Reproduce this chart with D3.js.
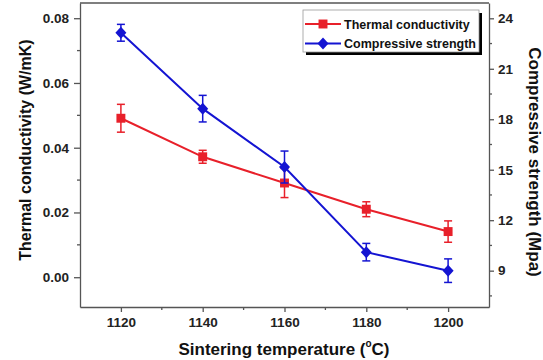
<!DOCTYPE html>
<html>
<head>
<meta charset="UTF-8">
<style>
  body, html { margin: 0; padding: 0; background: #fff; overflow: hidden; }
  svg { font-family: "Liberation Sans", Arial, sans-serif; }
  .tick text { font-size: 13.5px; font-weight: bold; fill: #222; }
  .axis path, .axis line { stroke: #555; stroke-width: 1.3px; }
</style>
</head>
<body>
<svg width="543" height="360"></svg>
<script src="https://d3js.org/d3.v7.min.js"></script>
<script>
const temps = [1120, 1140, 1160, 1180, 1200];
const conductivity = [0.0491, 0.0372, 0.0291, 0.0210, 0.0141];
const conductivityErr = [0.0043, 0.0020, 0.0045, 0.0023, 0.0033];
const strength = [23.14, 18.63, 15.16, 10.10, 9.00];
const strengthErr = [0.50, 0.79, 0.95, 0.52, 0.70];
const leftTicks = [0, 0.02, 0.04, 0.06, 0.08];
const rightTicks = [9, 12, 15, 18, 21, 24];
const xTicks = [1120, 1140, 1160, 1180, 1200];

const red = "#e8202a", blue = "#1414d2";
const m = {left: 80, top: 3, right: 489, bottom: 307};

const svg = d3.select("svg");
const x = d3.scaleLinear().domain([1110, 1210]).range([m.left, m.right]);
const yL = d3.scaleLinear().domain([-0.0092, 0.0847]).range([m.bottom, m.top]);
const yR = d3.scaleLinear().domain([6.84, 24.91]).range([m.bottom, m.top]);

// frame top
svg.append("line").attr("x1", m.left).attr("x2", m.right).attr("y1", m.top).attr("y2", m.top)
  .attr("stroke", "#555").attr("stroke-width", 1.3);

// minor ticks
function minor(axisG, vals, fn) {
  axisG.selectAll(".minor").data(vals).join("line").attr("class", "minor")
    .each(fn).attr("stroke", "#555").attr("stroke-width", 1.3);
}

const gx = svg.append("g").attr("class", "axis").attr("transform", `translate(0,${m.bottom})`)
  .call(d3.axisBottom(x).tickValues(xTicks).tickFormat(d3.format("d")).tickSize(5).tickPadding(5).tickSizeOuter(0));
minor(gx, [1130, 1150, 1170, 1190], function(d) {
  d3.select(this).attr("x1", x(d)).attr("x2", x(d)).attr("y1", 0).attr("y2", 3);
});

const gl = svg.append("g").attr("class", "axis").attr("transform", `translate(${m.left},0)`)
  .call(d3.axisLeft(yL).tickValues(leftTicks).tickFormat(d3.format(".2f")).tickSize(6).tickPadding(5).tickSizeOuter(0));
minor(gl, [0.01, 0.03, 0.05, 0.07], function(d) {
  d3.select(this).attr("x1", 0).attr("x2", -3).attr("y1", yL(d)).attr("y2", yL(d));
});

const gr = svg.append("g").attr("class", "axis").attr("transform", `translate(${m.right},0)`)
  .call(d3.axisRight(yR).tickValues(rightTicks).tickSize(5).tickPadding(4).tickSizeOuter(0));
minor(gr, [7.5, 10.5, 13.5, 16.5, 19.5, 22.5], function(d) {
  d3.select(this).attr("x1", 0).attr("x2", 3).attr("y1", yR(d)).attr("y2", yR(d));
});

// series
function series(vals, errs, scale, color, shape) {
  const pts = temps.map((t, i) => ({t, v: vals[i], e: errs[i]}));
  const g = svg.append("g");
  g.append("path").datum(pts)
    .attr("d", d3.line().x(d => x(d.t)).y(d => scale(d.v)))
    .attr("fill", "none").attr("stroke", color).attr("stroke-width", 2);
  const eb = g.selectAll(".eb").data(pts).join("g").attr("stroke", color).attr("stroke-width", 1.5);
  eb.append("line").attr("x1", d => x(d.t)).attr("x2", d => x(d.t))
    .attr("y1", d => scale(d.v - d.e)).attr("y2", d => scale(d.v + d.e));
  eb.append("line").attr("x1", d => x(d.t) - 4).attr("x2", d => x(d.t) + 4)
    .attr("y1", d => scale(d.v + d.e)).attr("y2", d => scale(d.v + d.e));
  eb.append("line").attr("x1", d => x(d.t) - 4).attr("x2", d => x(d.t) + 4)
    .attr("y1", d => scale(d.v - d.e)).attr("y2", d => scale(d.v - d.e));
  g.selectAll(".mk").data(pts).join("path")
    .attr("transform", d => `translate(${x(d.t)},${scale(d.v)})`)
    .attr("d", shape).attr("fill", color);
}
const sq = d3.symbol(d3.symbolSquare, 80)();
const diamond = "M0,-6L5.5,0L0,6L-5.5,0Z";
series(conductivity, conductivityErr, yL, red, sq);
series(strength, strengthErr, yR, blue, diamond);

// legend
const lg = svg.append("g").attr("transform", "translate(303,10)");
lg.append("rect").attr("x", 3).attr("y", 3).attr("width", 176).attr("height", 42).attr("fill", "#000");
lg.append("rect").attr("width", 176).attr("height", 42).attr("fill", "#fff").attr("stroke", "#999").attr("stroke-width", 0.8);
const items = [
  {name: "Thermal conductivity", color: red, shape: sq},
  {name: "Compressive strength", color: blue, shape: diamond}
];
items.forEach((it, i) => {
  const yy = 14 + i * 19.5;
  lg.append("line").attr("x1", 2).attr("x2", 38).attr("y1", yy).attr("y2", yy)
    .attr("stroke", it.color).attr("stroke-width", 2);
  lg.append("path").attr("transform", `translate(20,${yy})`).attr("d", it.shape).attr("fill", it.color);
  lg.append("text").attr("x", 41).attr("y", yy + 4.5).text(it.name)
    .attr("font-size", "12.5px").attr("font-weight", "bold").attr("fill", "#111");
});

// axis titles
svg.append("text").attr("transform", "translate(31,150) rotate(-90)")
  .attr("text-anchor", "middle").attr("font-size", "16px").attr("font-weight", "bold").attr("fill", "#111")
  .text("Thermal conductivity (W/mK)");
svg.append("text").attr("transform", "translate(529,162) rotate(90)")
  .attr("text-anchor", "middle").attr("font-size", "17px").attr("font-weight", "bold").attr("fill", "#111")
  .text("Compressive strength (Mpa)");
const xt = svg.append("text").attr("x", 284).attr("y", 355)
  .attr("text-anchor", "middle").attr("font-size", "17px").attr("font-weight", "bold").attr("fill", "#111");
xt.append("tspan").text("Sintering temperature (");
xt.append("tspan").attr("font-size", "10px").attr("dy", -8).text("o");
xt.append("tspan").attr("dy", 8).text("C)");
</script>
</body>
</html>
